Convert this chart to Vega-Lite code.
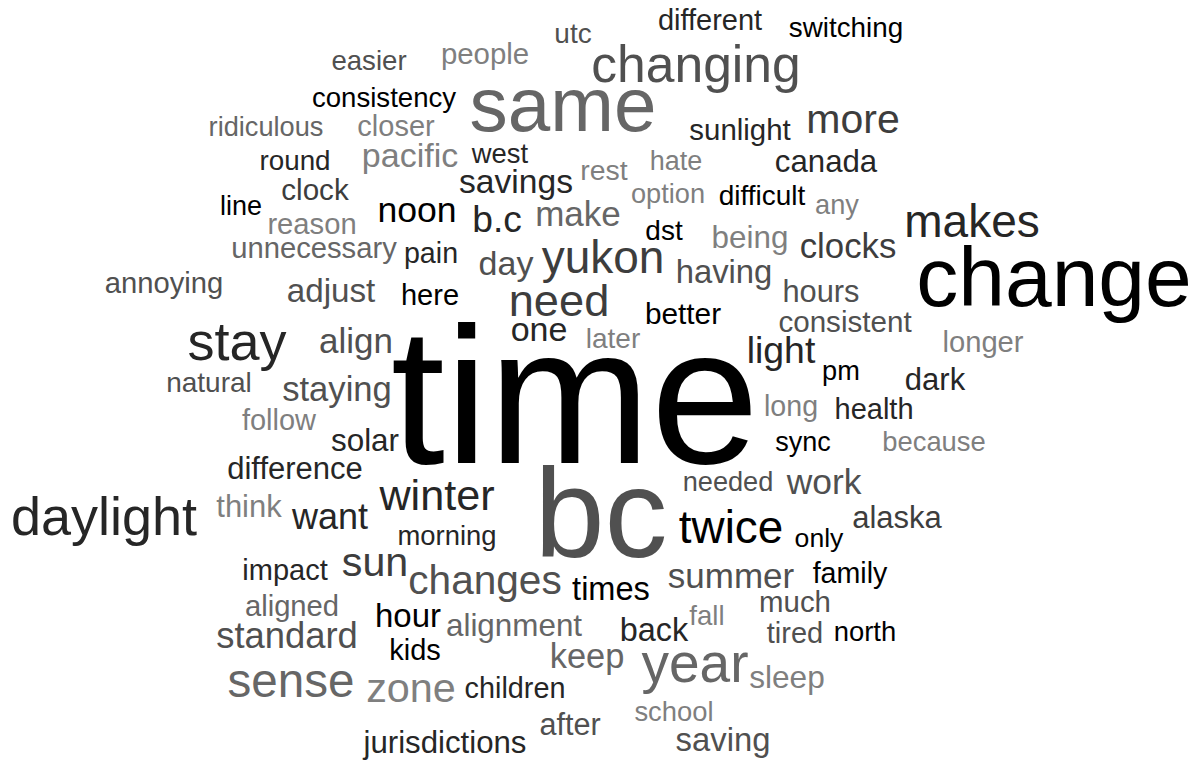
{
  "$schema": "https://vega.github.io/schema/vega-lite/v6.json",
  "width": 1204,
  "height": 763,
  "autosize": {"type": "fit", "contains": "padding"},
  "padding": 0,
  "background": "white",
  "config": {"view": {"stroke": null}},
  "data": {"values": [
    {"w":"time","x":575,"y":463,"n":97.5,"s":"k"},
    {"w":"bc","x":601,"y":557,"n":63,"s":"g"},
    {"w":"change","x":1054,"y":306,"n":42,"s":"k"},
    {"w":"same","x":563,"y":131,"n":38.2,"s":"l"},
    {"w":"changing","x":696,"y":82,"n":25.8,"s":"g"},
    {"w":"daylight","x":104,"y":535,"n":27,"s":"d"},
    {"w":"stay","x":237,"y":360,"n":27,"s":"d"},
    {"w":"different","x":710,"y":30,"n":14.5,"s":"d"},
    {"w":"switching","x":846,"y":37,"n":13.9,"s":"k"},
    {"w":"utc","x":573,"y":43,"n":14,"s":"g"},
    {"w":"people","x":485,"y":64,"n":14.7,"s":"ll"},
    {"w":"easier","x":369,"y":70,"n":13.8,"s":"g"},
    {"w":"consistency","x":384,"y":107,"n":13.8,"s":"k"},
    {"w":"ridiculous","x":266,"y":136,"n":13.6,"s":"l"},
    {"w":"closer","x":396,"y":136,"n":14.5,"s":"ll"},
    {"w":"pacific","x":410,"y":167,"n":17,"s":"ll"},
    {"w":"round","x":295,"y":170,"n":13.9,"s":"d"},
    {"w":"west","x":500,"y":163,"n":13.7,"s":"d"},
    {"w":"clock","x":315,"y":200,"n":14.8,"s":"m"},
    {"w":"line","x":241,"y":215,"n":13.5,"s":"k"},
    {"w":"reason","x":312,"y":234,"n":14.6,"s":"ll"},
    {"w":"unnecessary","x":314,"y":258,"n":14.6,"s":"l"},
    {"w":"annoying","x":164,"y":293,"n":14.6,"s":"g"},
    {"w":"savings","x":516,"y":193,"n":16.8,"s":"d"},
    {"w":"rest","x":604,"y":180,"n":14.2,"s":"ll"},
    {"w":"hate","x":676,"y":170,"n":13.5,"s":"ll"},
    {"w":"option","x":668,"y":203,"n":13.6,"s":"ll"},
    {"w":"sunlight","x":740,"y":140,"n":14.7,"s":"d"},
    {"w":"more","x":853,"y":133,"n":20.5,"s":"m"},
    {"w":"canada","x":826,"y":172,"n":15.6,"s":"d"},
    {"w":"difficult","x":762,"y":205,"n":14,"s":"k"},
    {"w":"any","x":837,"y":214,"n":13.6,"s":"ll"},
    {"w":"makes","x":972,"y":237,"n":23,"s":"d"},
    {"w":"noon","x":417,"y":222,"n":17.8,"s":"k"},
    {"w":"b.c","x":497,"y":232,"n":18.6,"s":"d"},
    {"w":"make","x":578,"y":226,"n":17.5,"s":"l"},
    {"w":"dst","x":664,"y":240,"n":14,"s":"k"},
    {"w":"being","x":750,"y":248,"n":15.7,"s":"ll"},
    {"w":"clocks","x":848,"y":258,"n":17.4,"s":"m"},
    {"w":"pain","x":431,"y":263,"n":14.3,"s":"d"},
    {"w":"day","x":506,"y":275,"n":17,"s":"g"},
    {"w":"yukon","x":603,"y":273,"n":23,"s":"m"},
    {"w":"having","x":724,"y":283,"n":16.4,"s":"g"},
    {"w":"adjust","x":331,"y":302,"n":16.6,"s":"g"},
    {"w":"here","x":430,"y":305,"n":14.5,"s":"k"},
    {"w":"need","x":559,"y":316,"n":22.6,"s":"m"},
    {"w":"hours","x":821,"y":302,"n":15.4,"s":"g"},
    {"w":"better","x":683,"y":324,"n":14.9,"s":"k"},
    {"w":"consistent","x":845,"y":332,"n":14.8,"s":"g"},
    {"w":"longer","x":983,"y":352,"n":14.6,"s":"ll"},
    {"w":"one","x":539,"y":341,"n":17,"s":"d"},
    {"w":"later","x":613,"y":348,"n":14,"s":"ll"},
    {"w":"align","x":356,"y":353,"n":17.5,"s":"g"},
    {"w":"light","x":781,"y":363,"n":18.7,"s":"d"},
    {"w":"pm","x":841,"y":380,"n":13.6,"s":"k"},
    {"w":"natural","x":209,"y":392,"n":14,"s":"g"},
    {"w":"staying","x":337,"y":401,"n":17.3,"s":"g"},
    {"w":"dark","x":935,"y":390,"n":15.5,"s":"d"},
    {"w":"long","x":791,"y":416,"n":14.3,"s":"ll"},
    {"w":"health","x":874,"y":419,"n":14.5,"s":"d"},
    {"w":"follow","x":279,"y":430,"n":14.5,"s":"ll"},
    {"w":"solar","x":365,"y":451,"n":15.7,"s":"d"},
    {"w":"sync","x":803,"y":451,"n":13.5,"s":"k"},
    {"w":"because","x":934,"y":451,"n":13.7,"s":"ll"},
    {"w":"difference","x":295,"y":479,"n":15.5,"s":"d"},
    {"w":"winter","x":437,"y":510,"n":21.6,"s":"d"},
    {"w":"work","x":824,"y":494,"n":17.7,"s":"g"},
    {"w":"needed","x":728,"y":491,"n":13.6,"s":"g"},
    {"w":"think","x":249,"y":517,"n":15.5,"s":"ll"},
    {"w":"want","x":330,"y":529,"n":18,"s":"d"},
    {"w":"twice","x":731,"y":543,"n":22.9,"s":"k"},
    {"w":"alaska","x":897,"y":528,"n":15.5,"s":"m"},
    {"w":"morning","x":447,"y":545,"n":13.7,"s":"d"},
    {"w":"only","x":819,"y":547,"n":13.3,"s":"k"},
    {"w":"sun","x":375,"y":576,"n":20.6,"s":"m"},
    {"w":"impact","x":285,"y":580,"n":14.5,"s":"d"},
    {"w":"changes","x":485,"y":594,"n":20.3,"s":"g"},
    {"w":"times","x":611,"y":600,"n":16.3,"s":"k"},
    {"w":"summer","x":731,"y":588,"n":17.5,"s":"g"},
    {"w":"family","x":850,"y":583,"n":14.3,"s":"k"},
    {"w":"aligned","x":292,"y":616,"n":14.6,"s":"l"},
    {"w":"much","x":795,"y":612,"n":14.7,"s":"g"},
    {"w":"hour","x":408,"y":627,"n":16.5,"s":"k"},
    {"w":"alignment","x":514,"y":636,"n":15.7,"s":"l"},
    {"w":"fall","x":707,"y":625,"n":13.8,"s":"ll"},
    {"w":"back","x":654,"y":641,"n":16.2,"s":"d"},
    {"w":"tired","x":795,"y":643,"n":14.5,"s":"g"},
    {"w":"north","x":865,"y":641,"n":13.7,"s":"k"},
    {"w":"standard","x":287,"y":648,"n":18.2,"s":"g"},
    {"w":"kids","x":415,"y":660,"n":14.5,"s":"k"},
    {"w":"keep","x":587,"y":668,"n":17.2,"s":"l"},
    {"w":"year","x":695,"y":682,"n":27.5,"s":"l"},
    {"w":"sense","x":291,"y":697,"n":23.8,"s":"l"},
    {"w":"zone","x":411,"y":702,"n":20.7,"s":"ll"},
    {"w":"sleep","x":787,"y":688,"n":15.8,"s":"ll"},
    {"w":"children","x":515,"y":698,"n":14.4,"s":"d"},
    {"w":"school","x":674,"y":721,"n":13.7,"s":"ll"},
    {"w":"after","x":570,"y":735,"n":15.3,"s":"g"},
    {"w":"jurisdictions","x":445,"y":753,"n":15.6,"s":"d"},
    {"w":"saving","x":723,"y":751,"n":16.4,"s":"g"}
  ]},
  "mark": {"type": "text", "font": "Liberation Sans", "align": "center", "baseline": "alphabetic"},
  "encoding": {
    "x": {"field": "x", "type": "quantitative", "scale": {"domain": [0, 1204], "nice": false, "zero": false}, "axis": null},
    "y": {"field": "y", "type": "quantitative", "scale": {"domain": [0, 763], "nice": false, "zero": false, "reverse": true}, "axis": null},
    "text": {"field": "w"},
    "size": {"field": "n", "type": "quantitative", "scale": {"type": "linear", "domain": [0, 100], "range": [0, 200]}, "legend": null},
    "color": {"field": "s", "type": "nominal", "scale": {"domain": ["k", "d", "m", "g", "l", "ll"], "range": ["#000000", "#262626", "#3d3d3d", "#505050", "#666666", "#7f7f7f"]}, "legend": null}
  }
}
